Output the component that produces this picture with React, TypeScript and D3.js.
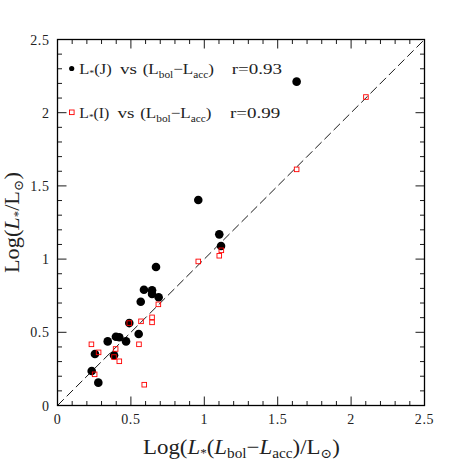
import React from "react";
import * as d3 from "d3";

const blackX = [0.233, 0.278, 0.255, 0.385, 0.342, 0.398, 0.421, 0.467, 0.489, 0.553, 0.567, 0.589, 0.644, 0.644, 0.689, 0.671, 0.959, 1.102, 1.114, 1.629];
const blackY = [0.236, 0.156, 0.352, 0.343, 0.438, 0.470, 0.466, 0.438, 0.563, 0.488, 0.709, 0.791, 0.787, 0.762, 0.739, 0.946, 1.404, 1.169, 1.089, 2.212];

const redX = [0.231, 0.280, 0.253, 0.396, 0.385, 0.421, 0.489, 0.555, 0.569, 0.591, 0.644, 0.644, 0.687, 0.959, 1.102, 1.116, 1.629, 2.101];
const redY = [0.418, 0.363, 0.213, 0.386, 0.331, 0.302, 0.563, 0.418, 0.575, 0.142, 0.602, 0.568, 0.691, 0.984, 1.023, 1.060, 1.613, 2.107];

const majorTicks = [0, 0.5, 1, 1.5, 2, 2.5];
const tickLabels = ["0", "0.5", "1", "1.5", "2", "2.5"];
const minorTicks = d3.range(0, 25).map((i) => i / 10).filter((v) => Math.round(v * 10) % 5 !== 0);

const legendBands = ["J", "I"];
const legendR = ["0.93", "0.99"];

const W = 463;
const H = 463;
const L = 57.5, R = 424.5, T = 39.5, B = 405.5;
const FONT = "'Liberation Serif', 'DejaVu Serif', serif";

function LegendLine({ yb, band, r, narrow }: { yb: number; band: string; r: string; narrow: boolean }) {
  const o = narrow ? -2.5 : 0;
  const common = { fontFamily: FONT, fontSize: 15, fill: "#222", lengthAdjust: "spacingAndGlyphs" as const };
  return (
    <g>
      <text x={79.3} y={yb} {...common} textLength={narrow ? 30 : 32.4}>
        L<tspan fontSize={9} dy={2}>*</tspan><tspan dy={-2}>({band})</tspan>
      </text>
      <text x={120 + o} y={yb} {...common} textLength={17}>vs</text>
      <text x={142.7 + o} y={yb} {...common} textLength={71.3}>
        (L<tspan fontSize={10} dy={4}>bol</tspan><tspan dy={-4}>−L</tspan><tspan fontSize={10} dy={4}>acc</tspan><tspan dy={-4}>)</tspan>
      </text>
      <text x={231.7 + (narrow ? -1.7 : 0)} y={yb} {...common} textLength={50.3}>r=0{"."}{r.slice(2)}</text>
    </g>
  );
}

export default function App() {
  const x = d3.scaleLinear().domain([0, 2.5]).range([L, R]);
  const y = d3.scaleLinear().domain([0, 2.5]).range([B, T]);
  const major = 9, minor = 4.5;
  const lineGen = d3.line<number>().x((d) => x(d)).y((d) => y(d));

  return (
    <svg width={W} height={H} style={{ position: "absolute", left: 0, top: 0, background: "#fff" }}>
      <rect x={0} y={0} width={W} height={H} fill="#fff" />
      {/* diagonal */}
      <path d={lineGen([0, 2.5]) || ""} stroke="#000" strokeWidth={0.9} fill="none" strokeDasharray="9,4" />

      {/* ticks */}
      <g stroke="#000" strokeWidth={0.9}>
        {majorTicks.map((t, i) => (
          <g key={"M" + i}>
            <line x1={x(t)} x2={x(t)} y1={B} y2={B - major} />
            <line x1={x(t)} x2={x(t)} y1={T} y2={T + major} />
            <line y1={y(t)} y2={y(t)} x1={L} x2={L + major} />
            <line y1={y(t)} y2={y(t)} x1={R} x2={R - major} />
          </g>
        ))}
        {minorTicks.map((t, i) => (
          <g key={"m" + i}>
            <line x1={x(t)} x2={x(t)} y1={B} y2={B - minor} />
            <line x1={x(t)} x2={x(t)} y1={T} y2={T + minor} />
            <line y1={y(t)} y2={y(t)} x1={L} x2={L + minor} />
            <line y1={y(t)} y2={y(t)} x1={R} x2={R - minor} />
          </g>
        ))}
      </g>
      <rect x={L} y={T} width={R - L} height={B - T} fill="none" stroke="#000" strokeWidth={1.3} />

      {/* tick labels */}
      <g fontFamily={FONT} fontSize={14} fill="#222" letterSpacing={0.6}>
        {majorTicks.map((t, i) => (
          <text key={"xl" + i} x={x(t)} y={B + 18} textAnchor="middle">{tickLabels[i]}</text>
        ))}
        {majorTicks.map((t, i) => (
          <text key={"yl" + i} x={L - 8} y={y(t) + 5} textAnchor="end">{tickLabels[i]}</text>
        ))}
      </g>

      {/* points */}
      {blackX.map((v, i) => (
        <circle key={"b" + i} cx={x(v)} cy={y(blackY[i])} r={4.3} fill="#000" />
      ))}
      {redX.map((v, i) => (
        <rect key={"r" + i} x={x(v) - 2.3} y={y(redY[i]) - 2.3} width={4.6} height={4.6} fill="none" stroke="#f00" strokeWidth={0.9} />
      ))}

      {/* legend */}
      <circle cx={71.7} cy={68.5} r={2.6} fill="#000" />
      <LegendLine yb={74} band={legendBands[0]} r={legendR[0]} narrow={false} />
      <rect x={69.5} y={110} width={4.6} height={4.6} fill="none" stroke="#f00" strokeWidth={0.9} />
      <LegendLine yb={117.5} band={legendBands[1]} r={legendR[1]} narrow={true} />

      {/* x axis title */}
      <text x={143} y={454} fontFamily={FONT} fontSize={21} fill="#222" textLength={197} lengthAdjust="spacingAndGlyphs">
        Log(<tspan fontStyle="italic">L</tspan><tspan fontSize={12} dy={3}>*</tspan><tspan dy={-3}>(</tspan><tspan fontStyle="italic">L</tspan>
        <tspan fontSize={14} dy={4}>bol</tspan><tspan dy={-4}>−</tspan><tspan fontStyle="italic">L</tspan>
        <tspan fontSize={14} dy={4}>acc</tspan><tspan dy={-4}>)/L</tspan><tspan fontSize={13} dy={4}>⊙</tspan><tspan dy={-4}>)</tspan>
      </text>

      {/* y axis title */}
      <text transform={`translate(19,273) rotate(-90)`} fontFamily={FONT} fontSize={21} fill="#222" textLength={101} lengthAdjust="spacingAndGlyphs">
        Log(<tspan fontStyle="italic">L</tspan><tspan fontSize={12} dy={3}>*</tspan><tspan dy={-3}>/L</tspan><tspan fontSize={13} dy={4}>⊙</tspan><tspan dy={-4}>)</tspan>
      </text>
    </svg>
  );
}
